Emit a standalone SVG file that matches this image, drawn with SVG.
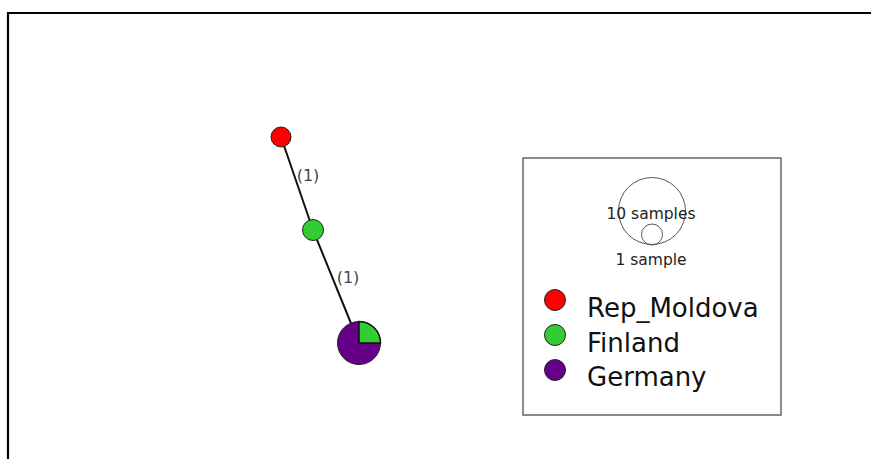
<svg xmlns="http://www.w3.org/2000/svg" width="871" height="459" viewBox="0 0 871 459">
<style>
.node{stroke:#222;stroke-width:1}
.edge{stroke:#111;stroke-width:2;fill:none}
.elab{font-family:"DejaVu Sans",sans-serif;font-size:16px;fill:#444;text-anchor:middle}
.small{font-family:"DejaVu Sans",sans-serif;font-size:15.5px;fill:#222;text-anchor:middle}
.leg{font-family:"DejaVu Sans",sans-serif;font-size:26px;fill:#111}
</style>
<rect x="0" y="0" width="871" height="459" fill="#fff"/>
<path d="M8 459 V13 H871" fill="none" stroke="#000" stroke-width="2.2"/>
<g id="connectors">
<line class="edge" x1="281" y1="137" x2="313" y2="230"/>
<line class="edge" x1="313" y1="230" x2="359" y2="343"/>
<text class="elab" x="308" y="181">(1)</text>
<text class="elab" x="348" y="283">(1)</text>
</g>
<g id="node-rep-moldova"><circle class="node" cx="281" cy="137" r="10" fill="#ff0000"/></g>
<g id="node-finland"><circle class="node" cx="313" cy="230" r="10.5" fill="#33cc33"/></g>
<g id="node-germany">
<circle class="node" cx="359" cy="343" r="21.5" fill="#660088"/>
<path d="M359 343 V321.5 A21.5 21.5 0 0 1 380.5 343 Z" fill="#33cc33" stroke="#111" stroke-width="1.5"/>
</g>
<g id="legend">
<rect x="523" y="158" width="258" height="257" fill="#fff" stroke="#666" stroke-width="1.5"/>
<circle cx="652" cy="211" r="33.5" fill="none" stroke="#555" stroke-width="1"/>
<circle cx="652" cy="234.5" r="10.5" fill="none" stroke="#555" stroke-width="1"/>
<text class="small" x="651" y="219">10 samples</text>
<text class="small" x="651" y="265">1 sample</text>
<circle class="node" cx="555" cy="300" r="10.5" fill="#ff0000"/>
<circle class="node" cx="555" cy="335" r="10.5" fill="#33cc33"/>
<circle class="node" cx="555" cy="370" r="10.5" fill="#660088"/>
<text class="leg" x="587" y="317">Rep_Moldova</text>
<text class="leg" x="587" y="352">Finland</text>
<text class="leg" x="587" y="386">Germany</text>
</g>
</svg>
